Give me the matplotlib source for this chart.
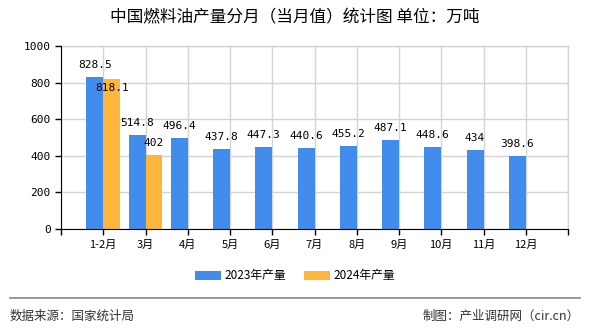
import numpy as np
import matplotlib.pyplot as plt
from matplotlib.lines import Line2D

plt.rcParams['font.family'] = ['Noto Sans CJK SC', 'DejaVu Sans']

months = ['1-2月', '3月', '4月', '5月', '6月', '7月', '8月', '9月', '10月', '11月', '12月']
output_2023 = [828.5, 514.8, 496.4, 437.8, 447.3, 440.6, 455.2, 487.1, 448.6, 434, 398.6]
output_2024 = [818.1, 402]
series_names = ['2023年产量', '2024年产量']

blue = '#428CEE'
orange = '#FDB53D'

fig = plt.figure(figsize=(5.9, 3.3), dpi=100)
ax = fig.add_axes([61 / 590, 1 - 229 / 330, (568 - 61) / 590, (229 - 46) / 330])

x = np.arange(len(months))
w = 0.4
b1 = ax.bar(x[:len(output_2023)] - w / 2, output_2023, w, color=blue, label=series_names[0], zorder=3)
b2 = ax.bar(x[:len(output_2024)] + w / 2, output_2024, w, color=orange, label=series_names[1], zorder=3)

# value labels (818.1 sits inside the bar in the original)
for rect, v in zip(b1, output_2023):
    ax.annotate(f'{v:g}', (rect.get_x() + rect.get_width() / 2, v), xytext=(0, 5),
                textcoords='offset points', ha='center', va='bottom', fontsize=8,
                family='DejaVu Sans Mono', zorder=5)
for i, (rect, v) in enumerate(zip(b2, output_2024)):
    dy = -10 if i == 0 else 5
    ax.annotate(f'{v:g}', (rect.get_x() + rect.get_width() / 2, v), xytext=(0, dy),
                textcoords='offset points', ha='center', va='bottom', fontsize=8,
                family='DejaVu Sans Mono', zorder=5)

ax.set_xlim(-1, len(months))
ax.set_ylim(0, 1000)
ax.set_yticks(np.arange(0, 1001, 200))
ax.set_xticks(np.arange(-1, len(months) + 1))
ax.set_xticklabels([''] + months + [''])
ax.tick_params(axis='both', labelsize=8, length=4, width=1, color='black')
for lbl in ax.get_yticklabels():
    lbl.set_family('DejaVu Sans Mono')

ax.grid(True, color='#d4d4d4', linewidth=1, zorder=0)
for s in ['top', 'right']:
    ax.spines[s].set_visible(False)
for s in ['left', 'bottom']:
    ax.spines[s].set_color('black')
    ax.spines[s].set_zorder(4)
# top and right grid boundaries
ax.axhline(1000, color='#d4d4d4', linewidth=1, zorder=0, clip_on=False)
ax.axvline(len(months), color='#d4d4d4', linewidth=1, zorder=0, clip_on=False)

fig.text(0.5, 1 - 18 / 330, '中国燃料油产量分月（当月值）统计图 单位：万吨', ha='center', va='center', fontsize=12)

fig.legend(handles=[b1, b2], labels=series_names, loc='center', bbox_to_anchor=(0.5, 1 - 276 / 330),
           ncol=2, frameon=False, fontsize=8.5, handlelength=2.2, handleheight=0.9,
           columnspacing=1.5, handletextpad=0.3)

fig.add_artist(Line2D([10 / 590, 580 / 590], [1 - 298 / 330] * 2, color='#888888', linewidth=1.2))
fig.text(10 / 590, 1 - 316 / 330, '数据来源：国家统计局', ha='left', va='center', fontsize=9, color='#333333')
fig.text(580 / 590, 1 - 316 / 330, '制图：产业调研网（cir.cn）', ha='right', va='center', fontsize=9, color='#333333')

fig.savefig('out.png', dpi=100)
